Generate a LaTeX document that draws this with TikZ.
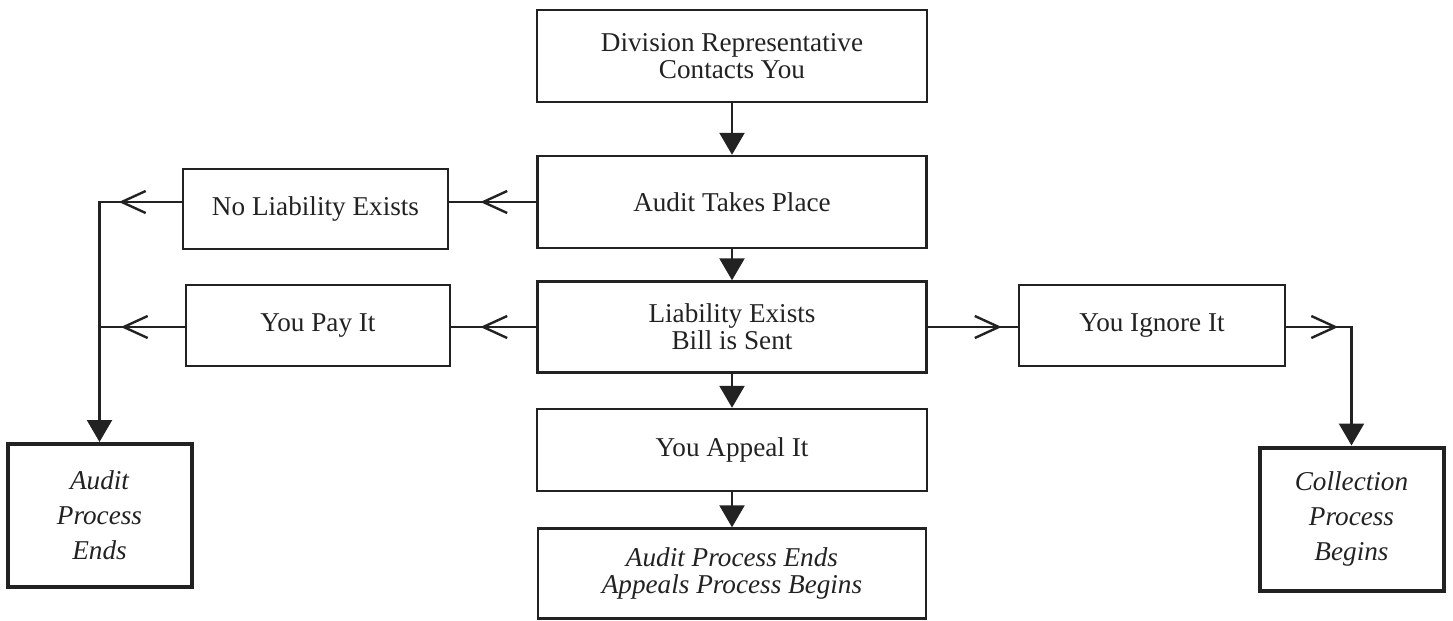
\documentclass[tikz,border=0pt]{standalone}
\usepackage{fontspec}
\setmainfont{Liberation Serif}
\usetikzlibrary{arrows.meta,decorations.markings}
\definecolor{ink}{HTML}{222222}
\begin{document}
\begin{tikzpicture}[x=0.5pt,y=-0.5pt,
  box/.style={draw=ink,line width=1.2pt,inner sep=2pt,align=center,text=ink,font=\fontsize{13.6}{13.6}\selectfont},
  endbox/.style={draw=ink,line width=2pt,inner sep=2pt,align=center,text=ink,font=\fontsize{13.6}{17.5}\selectfont\itshape},
  link/.style={draw=ink,line width=1.2pt},
  down/.style={link,-{Triangle[length=11pt,width=12.5pt]}},
  barbat/.style={link,postaction={decorate},decoration={markings,mark=at position #1 with {\arrow{Straight Barb[length=12pt,width=11pt]}}}}]
\useasboundingbox (0,0) rectangle (1453,621);
% middle column
\node[box,minimum width=195pt,minimum height=46pt] (div) at (732,56) {Division Representative\\Contacts You};
\node[box,minimum width=194.5pt,minimum height=46pt] (audit) at (732,202) {Audit Takes Place};
\node[box,minimum width=194.5pt,minimum height=45.5pt] (liab) at (732,327) {Liability Exists\\Bill is Sent};
\node[box,minimum width=195pt,minimum height=41pt] (appeal) at (732,450) {You Appeal It};
\node[box,minimum width=194pt,minimum height=45pt,font=\fontsize{13.6}{13.6}\selectfont\itshape] (final) at (732,573.5) {Audit Process Ends\\Appeals Process Begins};
% side boxes
\node[box,minimum width=132.5pt,minimum height=40pt] (noliab) at (315.5,209) {No Liability Exists};
\node[box,minimum width=132pt,minimum height=40.5pt] (pay) at (318,325.5) {You Pay It};
\node[box,minimum width=133pt,minimum height=40.5pt] (ignore) at (1152,325.5) {You Ignore It};
\node[endbox,minimum width=92pt,minimum height=71.5pt] (aend) at (99.5,515.5) {Audit\\Process\\Ends};
\node[endbox,minimum width=92pt,minimum height=71.5pt] (coll) at (1351.5,519) {Collection\\Process\\Begins};
% down arrows
\draw[down] (div.south) -- (audit.north);
\draw[down] (audit.south) -- (liab.north);
\draw[down] (liab.south) -- (appeal.north);
\draw[down] (appeal.south) -- (final.north);
% left branch
\draw[barbat=28pt] (audit.west) -- (audit.west -| noliab.east);
\draw[barbat=28pt] (liab.west) -- (liab.west -| pay.east);
\draw[barbat=31.5pt,-{Triangle[length=11pt,width=12.5pt]}] (audit.west -| noliab.west) -| (aend.north);
\draw[barbat=32pt] (liab.west -| pay.west) -- (liab.west -| aend.north);
% right branch
\draw[barbat=37pt] (liab.east) -- (liab.east -| ignore.west);
\draw[barbat=26pt,-{Triangle[length=11pt,width=12.5pt]}] (liab.east -| ignore.east) -| (coll.north);
\end{tikzpicture}
\end{document}
